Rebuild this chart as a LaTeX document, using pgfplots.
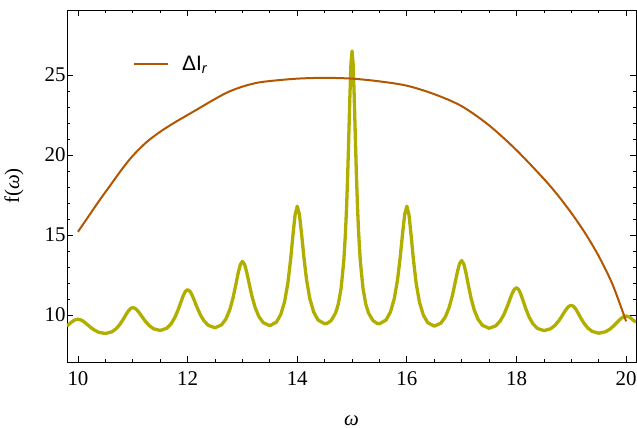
\documentclass[border=0pt]{standalone}
\usepackage{fontspec}
\setmainfont{Liberation Serif}
\newfontfamily\arialfont{Liberation Sans}
\usepackage{pgfplots}
\pgfplotsset{compat=1.18}
\usetikzlibrary{calc}
\definecolor{peakyellow}{RGB}{176,174,0}
\definecolor{deltaorange}{RGB}{178,86,0}

\begin{document}
\begin{tikzpicture}
\begin{axis}[
  scale only axis,
  width=569bp, height=352bp,
  xmin=9.8, xmax=20.18, ymin=7.06, ymax=29.06,
  xtick={10,12,...,20}, ytick={10,15,20,25},
  minor x tick num=3, minor y tick num=4,
  tick pos=both, xticklabel pos=lower, yticklabel pos=left,
  tick align=inside,
  major tick length=6bp, minor tick length=3.5bp,
  every tick/.style={black, line width=0.8bp},
  axis line style={line width=0.9bp},
  ticklabel style={font=\fontsize{21}{24}\selectfont},
  xticklabel style={yshift=-6bp},
  yticklabel style={xshift=2bp},
  /pgf/number format/assume math mode=true,
  xlabel={\textit{ω}}, ylabel={f(\textit{ω})},
  label style={font=\fontsize{21}{24}\selectfont},
  xlabel style={at={(axis description cs:0.5,-0.179)}, anchor=base},
  ylabel style={at={(axis description cs:-0.0931,0.5)}, anchor=center},
  legend style={at={(axis description cs:0.116,0.8466)}, anchor=west,
    draw=none, fill=none, inner sep=0pt,
    nodes={inner sep=0pt, font=\arialfont\fontsize{21}{24}\selectfont}},
  legend image code/.code={\draw[#1] (0bp,0bp) -- (34bp,0bp); \path (47bp,0bp);},
]

% peaked response
\addplot[peakyellow, line width=3.3bp, line join=round, forget plot] coordinates {
(9.80,9.31) (9.83,9.40) (9.88,9.546) (9.92,9.642) (9.96,9.707) (10.00,9.73)
(10.04,9.707) (10.08,9.642) (10.12,9.546) (10.17,9.403) (10.23,9.228) (10.30,9.054) (10.38,8.917) (10.50,8.84)
(10.62,8.947) (10.70,9.152) (10.77,9.436) (10.83,9.754) (10.88,10.043) (10.92,10.254) (10.96,10.405) (11.00,10.46)
(11.04,10.417) (11.08,10.298) (11.12,10.127) (11.17,9.883) (11.23,9.601) (11.30,9.336) (11.38,9.137) (11.50,9.03)
(11.62,9.171) (11.70,9.451) (11.77,9.860) (11.83,10.349) (11.88,10.828) (11.92,11.199) (11.96,11.476) (12.00,11.58)
(12.04,11.492) (12.08,11.255) (12.12,10.929) (12.17,10.494) (12.23,10.031) (12.30,9.629) (12.38,9.346) (12.50,9.20)
(12.62,9.381) (12.70,9.752) (12.77,10.330) (12.83,11.083) (12.88,11.896) (12.92,12.583) (12.96,13.134) (13.00,13.35)
(13.04,13.155) (13.08,12.650) (13.12,12.008) (13.17,11.228) (13.23,10.484) (13.30,9.900) (13.38,9.518) (13.50,9.33)
(13.62,9.553) (13.70,10.033) (13.77,10.839) (13.83,12.020) (13.88,13.488) (13.92,14.925) (13.96,16.240) (14.00,16.80)
(14.04,16.280) (14.08,15.042) (14.12,13.656) (14.17,12.205) (14.23,11.012) (14.30,10.183) (14.38,9.684) (14.50,9.45)
(14.55,9.483) (14.62,9.657) (14.70,10.127) (14.75,10.689) (14.80,11.654) (14.85,13.404) (14.88,15.134) (14.90,16.714)
(14.92,18.710) (14.94,21.094) (14.96,23.616) (14.98,25.680) (15.00,26.50)
(15.02,25.680) (15.04,23.616) (15.06,21.094) (15.08,18.710) (15.10,16.714) (15.12,15.134) (15.15,13.404) (15.20,11.654)
(15.25,10.689) (15.30,10.127) (15.38,9.657) (15.45,9.483) (15.50,9.45)
(15.62,9.684) (15.70,10.183) (15.77,11.012) (15.83,12.205) (15.88,13.656) (15.92,15.042) (15.96,16.280) (16.00,16.80)
(16.04,16.229) (16.08,14.894) (16.12,13.444) (16.17,11.972) (16.23,10.795) (16.30,9.995) (16.38,9.521) (16.50,9.30)
(16.62,9.487) (16.70,9.869) (16.77,10.456) (16.83,11.210) (16.88,12.008) (16.92,12.671) (16.96,13.196) (17.00,13.40)
(17.04,13.174) (17.08,12.601) (17.12,11.893) (17.17,11.062) (17.23,10.299) (17.30,9.720) (17.38,9.350) (17.50,9.17)
(17.62,9.318) (17.70,9.609) (17.77,10.026) (17.83,10.516) (17.88,10.985) (17.92,11.340) (17.96,11.602) (18.00,11.70)
(18.04,11.587) (18.08,11.287) (18.12,10.890) (18.17,10.383) (18.23,9.872) (18.30,9.450) (18.38,9.164) (18.50,9.02)
(18.62,9.133) (18.70,9.345) (18.77,9.631) (18.83,9.942) (18.88,10.217) (18.92,10.413) (18.96,10.550) (19.00,10.60)
(19.04,10.539) (19.08,10.373) (19.12,10.142) (19.17,9.828) (19.23,9.488) (19.30,9.187) (19.38,8.972) (19.50,8.86)
(19.62,8.946) (19.70,9.104) (19.77,9.308) (19.83,9.518) (19.88,9.696) (19.92,9.817) (19.96,9.900) (20.00,9.93)
(20.04,9.900) (20.08,9.817) (20.12,9.696) (20.18,9.55)
};

% Delta I_r
\addplot[deltaorange, line width=2bp, smooth] coordinates {
(10.00,15.20) (10.20,16.20) (10.40,17.20) (10.60,18.15) (10.80,19.10) (11.00,19.95)
(11.25,20.80) (11.50,21.45) (11.75,22.00) (12.00,22.50) (12.25,23.00) (12.50,23.50)
(12.75,23.95) (13.00,24.27) (13.25,24.50) (13.50,24.62) (14.00,24.77) (14.50,24.82)
(15.00,24.77) (15.50,24.60) (16.00,24.33) (16.50,23.80) (17.00,23.05) (17.50,21.85)
(18.00,20.30) (18.50,18.50) (18.75,17.50) (19.00,16.375) (19.25,15.125) (19.50,13.675)
(19.75,11.925) (20.00,9.60)
};
\addlegendentry{ΔI\textsubscript{\itshape r}}
\end{axis}
\pgfresetboundingbox
\useasboundingbox ($(current axis.south west)+(-67bp,-66bp)$) rectangle ($(current axis.north east)+(1bp,10bp)$);
\end{tikzpicture}
\end{document}
